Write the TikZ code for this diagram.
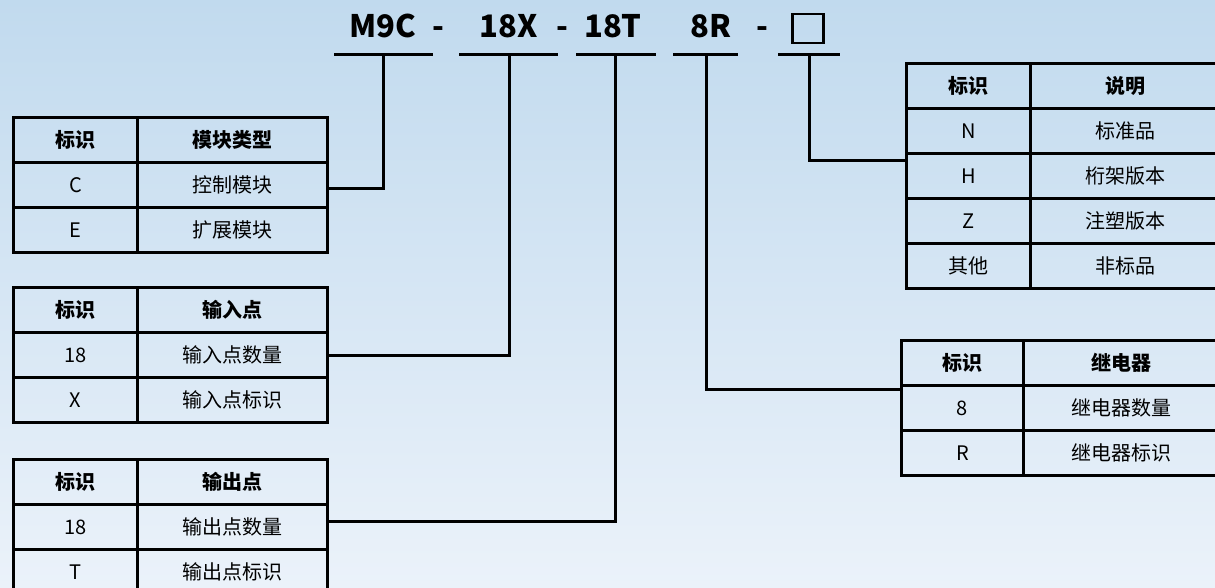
\documentclass[tikz,border=0pt]{standalone}
\usepackage{fontspec}
\setmainfont{Noto Sans CJK SC}
\definecolor{bgtop}{HTML}{C1DAEE}
\definecolor{bgbot}{HTML}{EBF2FA}
\begin{document}
\begin{tikzpicture}[x=1pt,y=-1pt,
  cell/.style={draw=black,line width=3pt,inner sep=0pt,anchor=north west,minimum height=45pt,font=\fontsize{20}{24}\selectfont},
  idc/.style={cell,minimum width=124pt},
  dsc/.style={cell,minimum width=190pt},
  hdr/.style={font=\fontsize{20}{24}\selectfont\bfseries},
  ttl/.style={font=\fontsize{31}{36}\selectfont\bfseries,anchor=base,inner sep=0pt},
  wire/.style={line width=3pt},
]
\clip (0,0) rectangle (1215,587);
\shade[top color=bgtop,bottom color=bgbot] (0,0) rectangle (1215,587);

% title
\node[ttl] (t1) at (383,37) {M9C};
\node[ttl] (d1) at (438,37) {-};
\node[ttl] (t2) at (509,37) {18X};
\node[ttl] (d2) at (562,37) {-};
\node[ttl] (t3) at (613,37) {18T};
\node[ttl] (t4) at (711,37) {8R};
\node[ttl] (d3) at (762,37) {-};
\node[draw,line width=2.5pt,minimum width=31pt,minimum height=29pt,inner sep=0pt] (box) at (808,28.5) {};

% underlines
\coordinate (u1a) at (334,54); \coordinate (u1b) at (433,54); \coordinate (m1) at (383,54);
\coordinate (u2a) at (459,54); \coordinate (u2b) at (558,54); \coordinate (m2) at (509,54);
\coordinate (u3a) at (576,54); \coordinate (u3b) at (656,54); \coordinate (m3) at (615,54);
\coordinate (u4a) at (673,54); \coordinate (u4b) at (738,54); \coordinate (m4) at (706,54);
\coordinate (u5a) at (778,54); \coordinate (u5b) at (840,54); \coordinate (m5) at (809,54);
\foreach \i in {1,...,5} {\draw[wire] (u\i a) -- (u\i b);}

% table A
\node[idc,hdr] (a0i) at (12,116) {标识};
\node[dsc,hdr] (a0d) at (136,116) {模块类型};
\node[idc] (a1i) at (12,161) {C};
\node[dsc] (a1d) at (136,161) {控制模块};
\node[idc] (a2i) at (12,206) {E};
\node[dsc] (a2d) at (136,206) {扩展模块};

% table B
\node[idc,hdr] (b0i) at (12,286) {标识};
\node[dsc,hdr] (b0d) at (136,286) {输入点};
\node[idc] (b1i) at (12,331) {18};
\node[dsc] (b1d) at (136,331) {输入点数量};
\node[idc] (b2i) at (12,376) {X};
\node[dsc] (b2d) at (136,376) {输入点标识};

% table C
\node[idc,hdr] (c0i) at (12,458) {标识};
\node[dsc,hdr] (c0d) at (136,458) {输出点};
\node[idc] (c1i) at (12,503) {18};
\node[dsc] (c1d) at (136,503) {输出点数量};
\node[idc] (c2i) at (12,548) {T};
\node[dsc] (c2d) at (136,548) {输出点标识};

% table R1
\node[idc,hdr] (r0i) at (905,62) {标识};
\node[dsc,hdr] (r0d) at (1029,62) {说明};
\node[idc] (r1i) at (905,107) {N};
\node[dsc] (r1d) at (1029,107) {标准品};
\node[idc] (r2i) at (905,152) {H};
\node[dsc] (r2d) at (1029,152) {桁架版本};
\node[idc] (r3i) at (905,197) {Z};
\node[dsc] (r3d) at (1029,197) {注塑版本};
\node[idc] (r4i) at (905,242) {其他};
\node[dsc] (r4d) at (1029,242) {非标品};

% table R2
\node[idc,hdr,minimum width=122pt] (s0i) at (900,339) {标识};
\node[dsc,hdr,minimum width=196pt] (s0d) at (1022,339) {继电器};
\node[idc,minimum width=122pt] (s1i) at (900,384) {8};
\node[dsc,minimum width=196pt] (s1d) at (1022,384) {继电器数量};
\node[idc,minimum width=122pt] (s2i) at (900,429) {R};
\node[dsc,minimum width=196pt] (s2d) at (1022,429) {继电器标识};

% connectors
\draw[wire] ([yshift=-3pt]a1d.east) -| (m1);
\draw[wire] (b1d.east) -| (m2);
\draw[wire] ([yshift=5.5pt]c1d.east) -| (m3);
\draw[wire] (m4) |- ([yshift=-5pt]s1i.north west);
\draw[wire] (m5) |- ([yshift=-8pt]r2i.north west);
\end{tikzpicture}
\end{document}
